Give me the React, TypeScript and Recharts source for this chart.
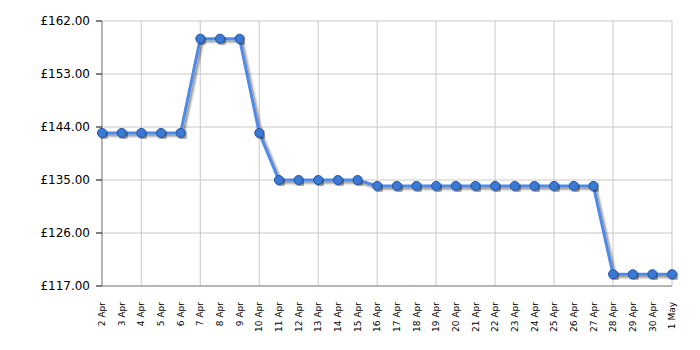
import React from "react";
import { LineChart, Line, XAxis, YAxis, CartesianGrid } from "recharts";

const dates = [
  "2 Apr", "3 Apr", "4 Apr", "5 Apr", "6 Apr", "7 Apr", "8 Apr", "9 Apr", "10 Apr",
  "11 Apr", "12 Apr", "13 Apr", "14 Apr", "15 Apr", "16 Apr", "17 Apr", "18 Apr",
  "19 Apr", "20 Apr", "21 Apr", "22 Apr", "23 Apr", "24 Apr", "25 Apr", "26 Apr",
  "27 Apr", "28 Apr", "29 Apr", "30 Apr", "1 May",
];
const prices = [
  143, 143, 143, 143, 143, 159, 159, 159, 143,
  135, 135, 135, 135, 135, 134, 134, 134,
  134, 134, 134, 134, 134, 134, 134, 134,
  134, 119, 119, 119, 119,
];
const yTicks = [117, 126, 135, 144, 153, 162];
const gridDates = ["4 Apr", "7 Apr", "10 Apr", "13 Apr", "16 Apr", "19 Apr", "22 Apr", "25 Apr", "28 Apr", "1 May"];

const data = dates.map((d, i) => ({ date: d, price: prices[i] }));

const FONT = "'DejaVu Sans', Verdana, sans-serif";

const XTick = (props: any) => {
  const { x, y, payload } = props;
  return (
    <text
      x={0}
      y={0}
      transform={`translate(${x},${y + 8}) rotate(-90)`}
      textAnchor="end"
      dy="0.35em"
      fontSize={9}
      fontFamily={FONT}
      fill="#000"
    >
      {payload.value}
    </text>
  );
};

const EmptyTick = () => <g />;

export default function App() {
  return (
    <div style={{ position: "absolute", left: 0, top: 0, background: "#fff" }}>
      <LineChart
        width={700}
        height={350}
        data={data}
        margin={{ top: 21, right: 28, bottom: 0, left: 0 }}
      >
        <defs>
          <filter id="shadow" x="-10%" y="-10%" width="120%" height="120%">
            <feDropShadow dx="2" dy="2" stdDeviation="1" floodColor="#000" floodOpacity="0.45" />
          </filter>
        </defs>
        <CartesianGrid stroke="#c8c8c8" xAxisId="grid" />
        <XAxis
          xAxisId="grid"
          dataKey="date"
          scale="point"
          ticks={gridDates}
          interval={0}
          height={0}
          tickSize={6}
          axisLine={false}
          tickLine={{ stroke: "#000" }}
          tick={<EmptyTick />}
        />
        <XAxis
          dataKey="date"
          scale="point"
          interval={0}
          height={64}
          tickLine={false}
          axisLine={{ stroke: "#888" }}
          tick={<XTick />}
        />
        <YAxis
          domain={[117, 162]}
          ticks={yTicks}
          width={102}
          tickSize={6}
          tickMargin={6}
          axisLine={{ stroke: "#888" }}
          tickLine={{ stroke: "#000" }}
          tickFormatter={(v: number) => `£${v.toFixed(2)}`}
          tick={{ fontSize: 12, fontFamily: FONT, fill: "#000" }}
        />
        <Line
          type="linear"
          dataKey="price"
          stroke="#4f8be6"
          strokeWidth={3}
          filter="url(#shadow)"
          dot={{ r: 4.5, fill: "#3b79d5", stroke: "#1f55a3", strokeWidth: 1 }}
          isAnimationActive={false}
        />
      </LineChart>
    </div>
  );
}
